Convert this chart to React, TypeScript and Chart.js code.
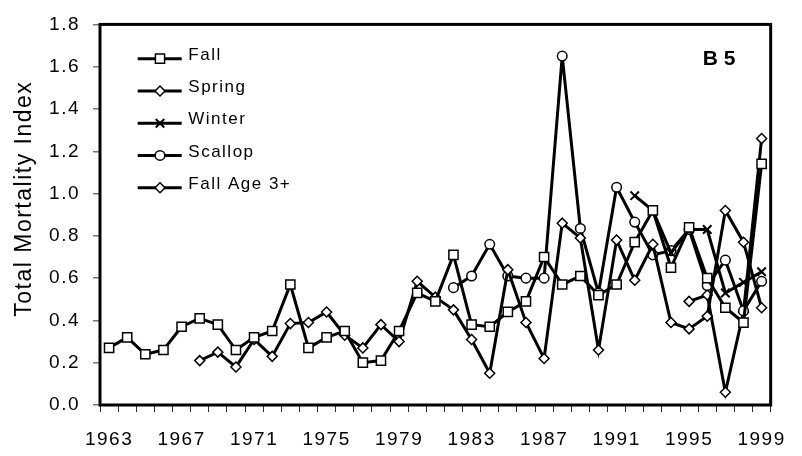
import React, { useEffect, useRef } from 'react';
import { Chart, registerables } from 'chart.js';

Chart.register(...registerables);

const years = [
  '1963', '1964', '1965', '1966', '1967', '1968', '1969', '1970', '1971', '1972',
  '1973', '1974', '1975', '1976', '1977', '1978', '1979', '1980', '1981', '1982',
  '1983', '1984', '1985', '1986', '1987', '1988', '1989', '1990', '1991', '1992',
  '1993', '1994', '1995', '1996', '1997', '1998', '1999',
];

const fall = [
  0.27, 0.32, 0.24, 0.26, 0.37, 0.41, 0.38, 0.26, 0.32, 0.35,
  0.57, 0.27, 0.32, 0.35, 0.20, 0.21, 0.35, 0.53, 0.49, 0.71,
  0.38, 0.37, 0.44, 0.49, 0.70, 0.57, 0.61, 0.52, 0.57, 0.77,
  0.92, 0.65, 0.84, 0.60, 0.46, 0.39, 1.14,
];

const spring = [
  null, null, null, null, null, 0.21, 0.25, 0.18, 0.31, 0.23,
  0.385, 0.39, 0.44, 0.33, 0.27, 0.38, 0.30, 0.585, 0.51, 0.45,
  0.31, 0.15, 0.64, 0.39, 0.22, 0.86, 0.79, 0.26, 0.78, 0.59,
  0.76, 0.39, 0.36, 0.42, 0.92, 0.77, 0.46,
];

const winter = [
  null, null, null, null, null, null, null, null, null, null,
  null, null, null, null, null, null, null, null, null, null,
  null, null, null, null, null, null, null, null, null, 0.99,
  0.92, 0.72, 0.83, 0.83, 0.53, 0.58, 0.63,
];

const scallop = [
  null, null, null, null, null, null, null, null, null, null,
  null, null, null, null, null, null, null, null, null, 0.555,
  0.61, 0.76, 0.61, 0.60, 0.60, 1.65, 0.835, 0.53, 1.03, 0.865,
  0.71, 0.73, 0.83, 0.565, 0.685, 0.445, 0.585,
];

const fallAge3 = [
  null, null, null, null, null, null, null, null, null, null,
  null, null, null, null, null, null, null, null, null, null,
  null, null, null, null, null, null, null, null, null, null,
  null, null, 0.49, 0.52, 0.06, 0.44, 1.26,
];

const seriesNames = ['Fall', 'Spring', 'Winter', 'Scallop', 'Fall Age 3+'];
const panelLabel = 'B 5';
const yTitle = 'Total Mortality Index';

const FONT = '"Liberation Sans", Arial, sans-serif';

type Style = 'rect' | 'rectRot' | 'crossRot' | 'circle';
const markerStyles: Style[] = ['rect', 'rectRot', 'crossRot', 'circle', 'rectRot'];
const markerRadius = [6.5, 5, 6, 4.8, 5];

function drawMarker(ctx: CanvasRenderingContext2D, style: Style, x: number, y: number, r: number) {
  ctx.save();
  ctx.fillStyle = '#ffffff';
  ctx.strokeStyle = '#000000';
  ctx.lineWidth = style === 'crossRot' ? 2 : 1.5;
  ctx.beginPath();
  if (style === 'rect') {
    const s = r * Math.SQRT1_2;
    ctx.rect(x - s, y - s, 2 * s, 2 * s);
    ctx.fill();
    ctx.stroke();
  } else if (style === 'rectRot') {
    ctx.moveTo(x, y - r);
    ctx.lineTo(x + r, y);
    ctx.lineTo(x, y + r);
    ctx.lineTo(x - r, y);
    ctx.closePath();
    ctx.fill();
    ctx.stroke();
  } else if (style === 'circle') {
    ctx.arc(x, y, r, 0, Math.PI * 2);
    ctx.fill();
    ctx.stroke();
  } else {
    const s = r * Math.SQRT1_2;
    ctx.moveTo(x - s, y - s);
    ctx.lineTo(x + s, y + s);
    ctx.moveTo(x + s, y - s);
    ctx.lineTo(x - s, y + s);
    ctx.stroke();
  }
  ctx.restore();
}

const spacingPlugin = {
  id: 'spacing',
  beforeUpdate(chart: any) {
    (chart.ctx as any).letterSpacing = '1.5px';
  },
  beforeDraw(chart: any) {
    (chart.ctx as any).letterSpacing = '1.5px';
  },
};

const decorPlugin = {
  id: 'decor',
  afterDraw(chart: any) {
    const ctx: CanvasRenderingContext2D = chart.ctx;
    const a = chart.chartArea;
    ctx.save();
    (ctx as any).letterSpacing = '1.5px';
    // frame
    ctx.strokeStyle = '#000';
    ctx.lineWidth = 3;
    ctx.strokeRect(a.left, a.top, a.right - a.left, a.bottom - a.top);

    // legend
    chart.data.datasets.forEach((ds: any, i: number) => {
      const ly = a.top + 34.3 + i * 32.25;
      ctx.strokeStyle = '#000';
      ctx.lineWidth = 3;
      ctx.beginPath();
      ctx.moveTo(a.left + 37.7, ly);
      ctx.lineTo(a.left + 81.7, ly);
      ctx.stroke();
      drawMarker(ctx, markerStyles[i], a.left + 60, ly, markerRadius[i]);
      ctx.fillStyle = '#000';
      ctx.font = `17px ${FONT}`;
      ctx.textAlign = 'left';
      ctx.textBaseline = 'middle';
      ctx.fillText(ds.label, a.left + 88.3, ly - 3.5);
    });

    // panel label
    (ctx as any).letterSpacing = '0px';
    ctx.font = `bold 21px ${FONT}`;
    ctx.textAlign = 'left';
    ctx.textBaseline = 'alphabetic';
    ctx.fillStyle = '#000';
    ctx.fillText(panelLabel, a.right - 68, a.top + 40.3);

    // y title
    (ctx as any).letterSpacing = '1.5px';
    ctx.translate(31, (a.top + a.bottom) / 2 - 16);
    ctx.rotate(-Math.PI / 2);
    ctx.font = `23px ${FONT}`;
    ctx.textAlign = 'center';
    ctx.textBaseline = 'alphabetic';
    ctx.fillText(yTitle, 0, 0);
    ctx.restore();
  },
};

export default function App() {
  const ref = useRef<HTMLCanvasElement | null>(null);

  useEffect(() => {
    if (!ref.current) return;
    const seriesValues = [fall, spring, winter, scallop, fallAge3];
    const datasets = seriesValues.map((vals, i) => ({
      label: seriesNames[i],
      data: vals,
      borderColor: '#000000',
      backgroundColor: '#ffffff',
      borderWidth: 3,
      tension: 0,
      pointStyle: markerStyles[i],
      pointRadius: markerRadius[i],
      pointHoverRadius: markerRadius[i],
      pointBackgroundColor: '#ffffff',
      pointBorderColor: '#000000',
      pointBorderWidth: markerStyles[i] === 'crossRot' ? 2 : 1.5,
      spanGaps: false,
      fill: false,
    }));

    const chart = new Chart(ref.current, {
      type: 'line',
      data: { labels: years, datasets },
      options: {
        animation: false,
        responsive: true,
        maintainAspectRatio: false,
        layout: { padding: { left: 0, top: 16, right: 19, bottom: 0 } },
        plugins: {
          legend: { display: false },
          tooltip: { enabled: false },
          title: { display: false },
        },
        scales: {
          x: {
            type: 'category',
            offset: true,
            border: { display: false },
            grid: {
              offset: true,
              drawOnChartArea: false,
              drawTicks: true,
              tickLength: 7,
              color: '#333333',
              lineWidth: 1,
            },
            ticks: {
              autoSkip: false,
              maxRotation: 0,
              minRotation: 0,
              padding: 16,
              color: '#000000',
              font: { family: FONT, size: 19 },
              callback: (_v: any, idx: number) => (idx % 4 === 0 ? years[idx] : ''),
            },
            afterFit: (scale: any) => {
              scale.height = 51;
            },
          },
          y: {
            min: 0,
            max: 1.8,
            border: { display: false },
            grid: {
              drawOnChartArea: false,
              drawTicks: true,
              tickLength: 7,
              color: '#777777',
              lineWidth: 1.5,
            },
            ticks: {
              stepSize: 0.2,
              padding: 13,
              color: '#000000',
              font: { family: FONT, size: 19 },
              callback: (v: any) => Number(v).toFixed(1),
            },
            afterFit: (scale: any) => {
              scale.width = 100;
            },
          },
        },
      },
      plugins: [spacingPlugin, decorPlugin],
    });

    return () => chart.destroy();
  }, []);

  return (
    <div style={{ position: 'fixed', left: 0, top: 0, width: 802, height: 456, background: '#fff' }}>
      <canvas ref={ref} />
    </div>
  );
}
